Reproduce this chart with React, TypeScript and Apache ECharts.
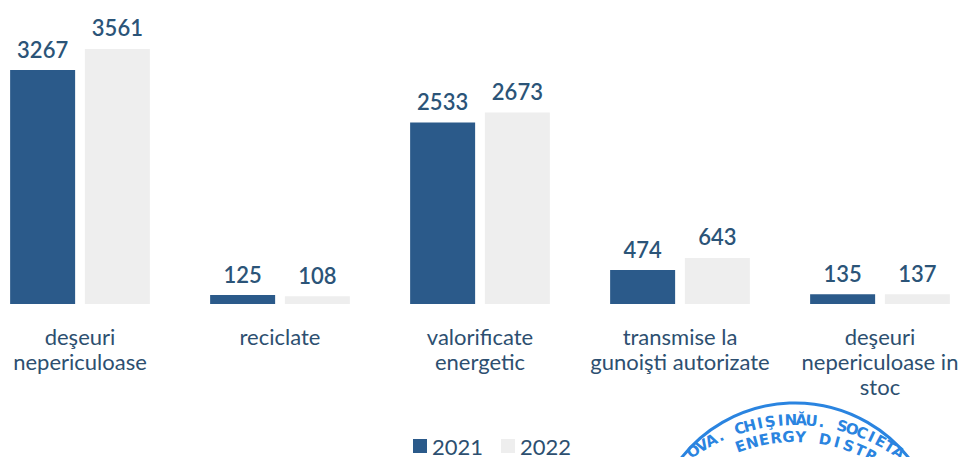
import React, { useEffect, useRef } from "react";
import * as echarts from "echarts";

const categories = [
  "deşeuri\nnepericuloase",
  "reciclate",
  "valorificate\nenergetic",
  "transmise la\ngunoişti autorizate",
  "deşeuri\nnepericuloase in\nstoc",
];
const seriesNames = ["2021", "2022"];
const values2021 = [3267, 125, 2533, 474, 135];
const values2022 = [3561, 108, 2673, 643, 137];

const stampOuter = "OVA. CHIŞINĂU. SOCIETA";
const stampInner = "ENERGY DISTR";

// the chart div is shifted 20px left of the window, so window x + 20 = div x
const OFFSET = 20;

function stampChars(text: string, cx: number, cy: number, r: number, start: number, step: number) {
  const out: any[] = [];
  for (let i = 0; i < text.length; i++) {
    const ch = text[i];
    if (ch === " ") continue;
    const th = ((start + i * step) * Math.PI) / 180;
    out.push({
      type: "text",
      x: cx + r * Math.sin(th),
      y: cy - r * Math.cos(th),
      rotation: -th,
      silent: true,
      style: {
        text: ch,
        fill: "#2a84e0",
        font: "bold 15px 'DejaVu Sans', sans-serif",
        align: "center",
        verticalAlign: "middle",
      },
    });
  }
  return out;
}

export default function App() {
  const ref = useRef<HTMLDivElement>(null);
  useEffect(() => {
    if (!ref.current) return;
    const chart = echarts.init(ref.current, undefined, { renderer: "svg" });
    const font = "Lato, 'Open Sans', sans-serif";
    const valueLabel = {
      show: true,
      position: "top",
      distance: 10,
      color: "#2b5478",
      fontSize: 22,
      fontWeight: 600,
      fontFamily: font,
    };
    chart.setOption({
      animation: false,
      backgroundColor: "#ffffff",
      grid: { left: 0, right: 0, top: 17.5, bottom: 153 },
      legend: {
        data: seriesNames,
        left: 408 + OFFSET,
        top: 430,
        itemWidth: 14,
        itemHeight: 14,
        itemGap: 18,
        icon: "rect",
        textStyle: { color: "#2d4f70", fontSize: 22, fontFamily: font },
      },
      xAxis: {
        type: "category",
        data: categories,
        axisLine: { show: false },
        axisTick: { show: false },
        axisLabel: {
          interval: 0,
          margin: 20,
          color: "#2d4f70",
          fontSize: 22,
          lineHeight: 25,
          fontFamily: font,
          verticalAlign: "top",
        },
      },
      yAxis: { type: "value", min: 0, max: 4000, show: false, splitLine: { show: false } },
      series: [
        {
          name: seriesNames[0],
          type: "bar",
          data: values2021,
          barWidth: 65,
          barGap: "15%",
          itemStyle: { color: "#2b5a8a" },
          label: valueLabel,
        },
        {
          name: seriesNames[1],
          type: "bar",
          data: values2022,
          barWidth: 65,
          itemStyle: { color: "#eeeeee" },
          label: valueLabel,
        },
      ],
      graphic: [
        {
          type: "circle",
          silent: true,
          shape: { cx: 795 + OFFSET, cy: 548, r: 145 },
          style: { fill: "none", stroke: "#2a84e0", lineWidth: 3 },
        },
        ...stampChars(stampOuter, 795 + OFFSET, 600, 180, -34.3, 3.3),
        ...stampChars(stampInner, 795 + OFFSET, 600, 163, -19.5, 4.3),
      ],
    });
    return () => chart.dispose();
  }, []);
  return (
    <div
      ref={ref}
      style={{ position: "fixed", left: -OFFSET, top: 0, width: 1000, height: 457 }}
    />
  );
}
